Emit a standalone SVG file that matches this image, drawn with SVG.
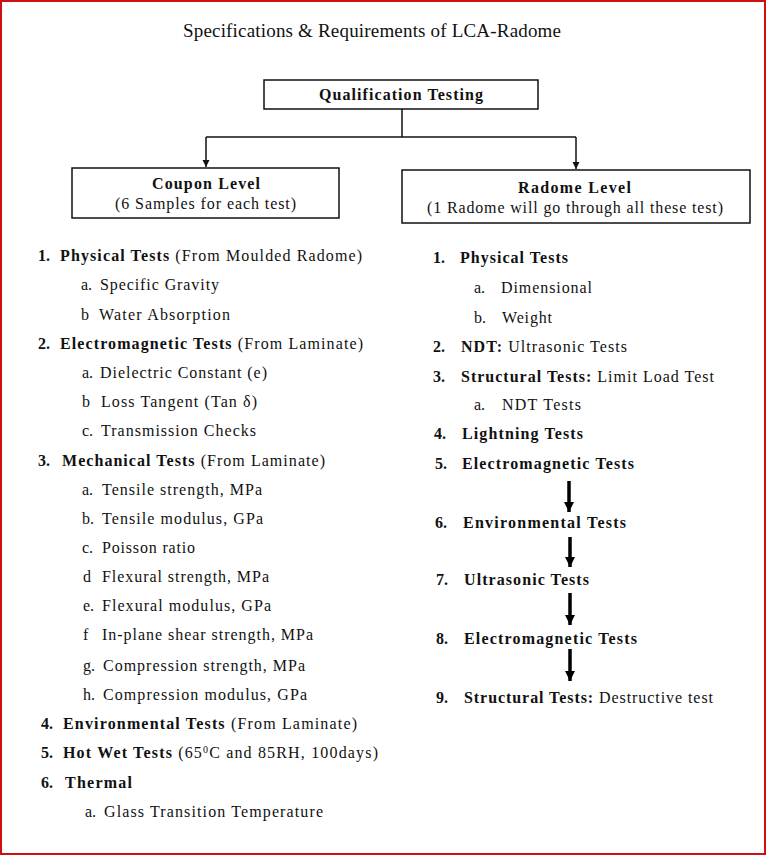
<svg xmlns="http://www.w3.org/2000/svg" width="767" height="856" viewBox="0 0 767 856">
<style>
text{font-family:"Liberation Serif","Times New Roman",serif;font-size:16px;fill:#111}
.b{font-weight:bold}
.t{font-size:19px}
.box{fill:#fff;stroke:#111;stroke-width:1.5}
.ln{fill:none;stroke:#111;stroke-width:1.5}
.thick{fill:none;stroke:#000;stroke-width:3.5}
</style>
<defs>
<marker id="ah" viewBox="0 0 10 10" refX="10" refY="5" markerWidth="7" markerHeight="9" markerUnits="userSpaceOnUse" orient="auto"><path d="M0,0 L10,5 L0,10 Z" fill="#111"/></marker>
<marker id="ahb" viewBox="0 0 10 10" refX="10" refY="5" markerWidth="10" markerHeight="11" markerUnits="userSpaceOnUse" orient="auto"><path d="M0,0 L10,5 L0,10 Z" fill="#000"/></marker>
</defs>
<rect x="1" y="1" width="764" height="853" fill="#fff" stroke="#d01010" stroke-width="2"/>
<text id="title" class="t" x="183" y="37" textLength="378" lengthAdjust="spacing">Specifications &amp; Requirements of LCA-Radome</text>

<g id="connectors">
<polyline class="ln" points="402,109 402,137"/>
<polyline class="ln" points="206,137 576,137"/>
<line class="ln" x1="206" y1="137" x2="206" y2="167" marker-end="url(#ah)"/>
<line class="ln" x1="576" y1="137" x2="576" y2="169" marker-end="url(#ah)"/>
<line class="thick" x1="569" y1="481" x2="569" y2="512" marker-end="url(#ahb)"/>
<line class="thick" x1="570" y1="537" x2="570" y2="567" marker-end="url(#ahb)"/>
<line class="thick" x1="570" y1="593" x2="570" y2="625" marker-end="url(#ahb)"/>
<line class="thick" x1="570" y1="649" x2="570" y2="681" marker-end="url(#ahb)"/>
</g>

<g id="qualification">
<rect class="box" x="264" y="80" width="274" height="29"/>
<text class="b" x="319" y="100" textLength="164" lengthAdjust="spacing">Qualification Testing</text>
</g>
<g id="coupon">
<rect class="box" x="72" y="168" width="267" height="50"/>
<text class="b" x="152" y="189" textLength="108" lengthAdjust="spacing">Coupon Level</text>
<text x="115" y="209" textLength="181" lengthAdjust="spacing">(6 Samples for each test)</text>
</g>
<g id="radome">
<rect class="box" x="402" y="170" width="348" height="53"/>
<text class="b" x="518" y="193" textLength="113" lengthAdjust="spacing">Radome Level</text>
<text x="427" y="213" textLength="296" lengthAdjust="spacing">(1 Radome will go through all these test)</text>
</g>

<g id="coupon-list">
<text class="b" x="38" y="261">1.</text>
<text x="60" y="261" textLength="302" lengthAdjust="spacing"><tspan class="b">Physical Tests</tspan> (From Moulded Radome)</text>
<text x="81" y="290">a.</text><text x="100" y="290" textLength="119" lengthAdjust="spacing">Specific Gravity</text>
<text x="81" y="320">b</text><text x="99" y="320" textLength="131" lengthAdjust="spacing">Water Absorption</text>
<text class="b" x="38" y="349">2.</text>
<text x="60" y="349" textLength="303" lengthAdjust="spacing"><tspan class="b">Electromagnetic Tests</tspan> (From Laminate)</text>
<text x="82" y="378">a.</text><text x="100" y="378" textLength="167" lengthAdjust="spacing">Dielectric Constant (e)</text>
<text x="82" y="407">b</text><text x="101" y="407" textLength="156" lengthAdjust="spacing">Loss Tangent (Tan δ)</text>
<text x="82" y="436">c.</text><text x="101" y="436" textLength="155" lengthAdjust="spacing">Transmission Checks</text>
<text class="b" x="38" y="466">3.</text>
<text x="62" y="466" textLength="263" lengthAdjust="spacing"><tspan class="b">Mechanical Tests</tspan> (From Laminate)</text>
<text x="82" y="495">a.</text><text x="102" y="495" textLength="160" lengthAdjust="spacing">Tensile strength, MPa</text>
<text x="82" y="524">b.</text><text x="102" y="524" textLength="161" lengthAdjust="spacing">Tensile modulus, GPa</text>
<text x="82" y="553">c.</text><text x="102" y="553" textLength="93" lengthAdjust="spacing">Poisson ratio</text>
<text x="83" y="582">d</text><text x="102" y="582" textLength="167" lengthAdjust="spacing">Flexural strength, MPa</text>
<text x="83" y="611">e.</text><text x="102" y="611" textLength="169" lengthAdjust="spacing">Flexural modulus, GPa</text>
<text x="83" y="640">f</text><text x="102" y="640" textLength="211" lengthAdjust="spacing">In-plane shear strength, MPa</text>
<text x="83" y="671">g.</text><text x="103" y="671" textLength="202" lengthAdjust="spacing">Compression strength, MPa</text>
<text x="83" y="700">h.</text><text x="103" y="700" textLength="204" lengthAdjust="spacing">Compression modulus, GPa</text>
<text class="b" x="41" y="729">4.</text>
<text x="63" y="729" textLength="294" lengthAdjust="spacing"><tspan class="b">Environmental Tests</tspan> (From Laminate)</text>
<text class="b" x="41" y="758">5.</text>
<text x="63" y="758" textLength="315" lengthAdjust="spacing"><tspan class="b">Hot Wet Tests</tspan> (65<tspan dy="-5" font-size="10">0</tspan><tspan dy="5">C and 85RH, 100days)</tspan></text>
<text class="b" x="41" y="788">6.</text>
<text class="b" x="65" y="788" textLength="67" lengthAdjust="spacing">Thermal</text>
<text x="85" y="817">a.</text><text x="104" y="817" textLength="219" lengthAdjust="spacing">Glass Transition Temperature</text>
</g>

<g id="radome-list">
<text class="b" x="433" y="263">1.</text>
<text class="b" x="460" y="263" textLength="108" lengthAdjust="spacing">Physical Tests</text>
<text x="474" y="293">a.</text><text x="501" y="293" textLength="91" lengthAdjust="spacing">Dimensional</text>
<text x="474" y="323">b.</text><text x="502" y="323" textLength="50" lengthAdjust="spacing">Weight</text>
<text class="b" x="433" y="352">2.</text>
<text x="461" y="352" textLength="166" lengthAdjust="spacing"><tspan class="b">NDT:</tspan> Ultrasonic Tests</text>
<text class="b" x="433" y="382">3.</text>
<text x="461" y="382" textLength="253" lengthAdjust="spacing"><tspan class="b">Structural Tests:</tspan> Limit Load Test</text>
<text x="474" y="410">a.</text><text x="502" y="410" textLength="79" lengthAdjust="spacing">NDT Tests</text>
<text class="b" x="434" y="439">4.</text>
<text class="b" x="462" y="439" textLength="121" lengthAdjust="spacing">Lightning Tests</text>
<text class="b" x="435" y="469">5.</text>
<text class="b" x="462" y="469" textLength="172" lengthAdjust="spacing">Electromagnetic Tests</text>
<text class="b" x="435" y="528">6.</text>
<text class="b" x="463" y="528" textLength="163" lengthAdjust="spacing">Environmental Tests</text>
<text class="b" x="436" y="585">7.</text>
<text class="b" x="464" y="585" textLength="125" lengthAdjust="spacing">Ultrasonic Tests</text>
<text class="b" x="436" y="644">8.</text>
<text class="b" x="464" y="644" textLength="173" lengthAdjust="spacing">Electromagnetic Tests</text>
<text class="b" x="436" y="703">9.</text>
<text x="464" y="703" textLength="249" lengthAdjust="spacing"><tspan class="b">Structural Tests:</tspan> Destructive test</text>
</g>
</svg>
